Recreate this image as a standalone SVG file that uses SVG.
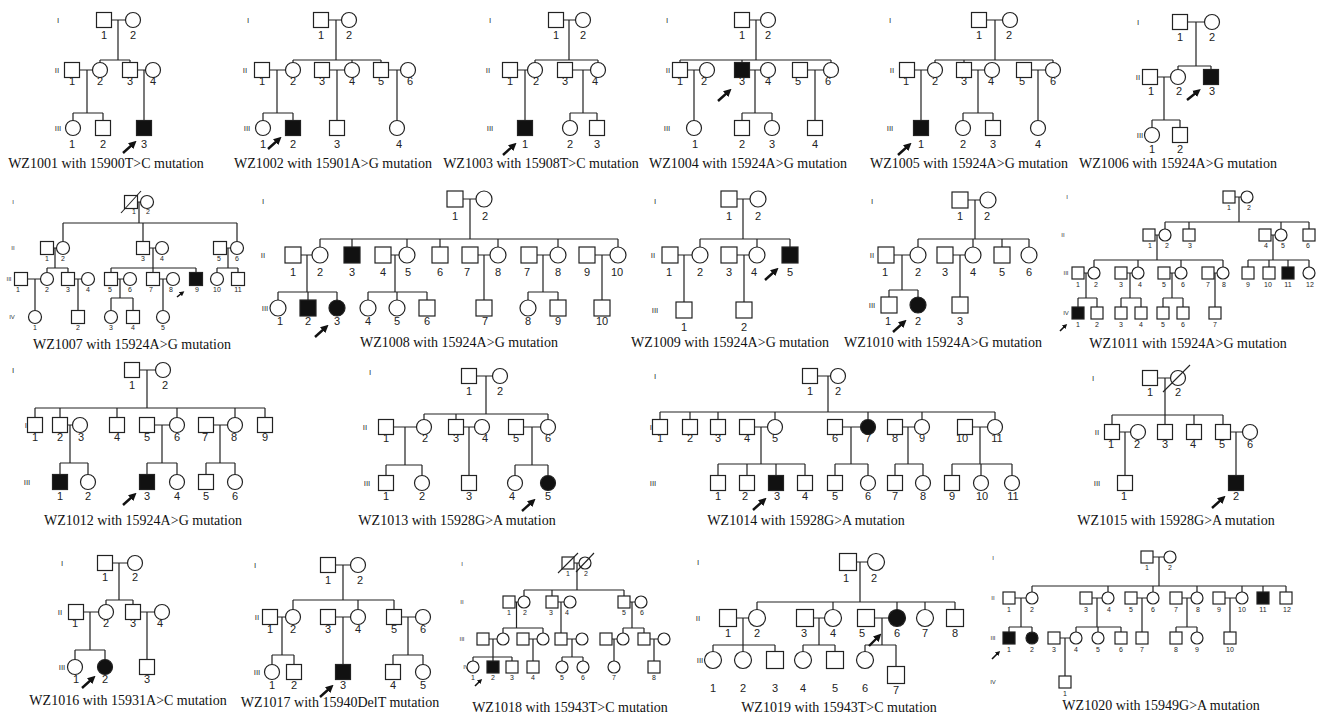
<svg xmlns="http://www.w3.org/2000/svg" width="1318" height="717" viewBox="0 0 1318 717">
<style>
.ln{fill:none;stroke:#222;stroke-width:1.2}
.m,.f{fill:#fff;stroke:#222;stroke-width:1.2}
.a{fill:#111}
.d{stroke:#222;stroke-width:1.1}
.n{font-family:"Liberation Sans",Arial,sans-serif;font-size:11px;fill:#222;text-anchor:middle}
.s{font-size:7px}
.g{font-family:"Liberation Sans",Arial,sans-serif;font-size:8px;fill:#333;text-anchor:middle}
.gs{font-size:6px}
.c{font-family:"Liberation Serif","Times New Roman",serif;font-size:14px;fill:#111;text-anchor:middle}
.ar{fill:none;stroke:#111;stroke-width:2.4;marker-end:url(#ah)}
.ars{fill:none;stroke:#111;stroke-width:1.6;marker-end:url(#ahs)}
</style>
<defs>
<marker id="ah" viewBox="0 0 10 10" refX="4" refY="5" markerWidth="8" markerHeight="8" markerUnits="userSpaceOnUse" orient="auto"><path d="M0,0L10,5L0,10z" fill="#111"/></marker>
<marker id="ahs" viewBox="0 0 10 10" refX="4" refY="5" markerWidth="5" markerHeight="5" markerUnits="userSpaceOnUse" orient="auto"><path d="M0,0L10,5L0,10z" fill="#111"/></marker>
</defs>
<rect width="1318" height="717" fill="#fff"/>

<g id="connectors" class="ln">
<path id="c1001" d="M111.5,20H125.5M118,20V60M100,60H130M100,60V62.5M130,60V62.5M79.5,70H92.5M87,70V113M73,113H103M73,113V120.5M103,113V120.5M137.5,70H145.5M144,70V120.5"/>
<path id="c1002" d="M328.5,20H341.5M336,20V60M293,60H381M293,60V62.5M352,60V62.5M381,60V62.5M269.5,70H285.5M277,70V113M263,113H293M263,113V120.5M293,113V120.5M329.5,70H344.5M337,70V120.5M388.5,70H400.5M397,70V120.5"/>
<path id="c1003" d="M563.5,20H575.5M569,20V60M535,60H598M535,60V62.5M598,60V62.5M517.5,70H527.5M525,70V120.5M572.5,70H590.5M583,70V113M570,113H597M570,113V120.5M597,113V120.5"/>
<path id="c1004" d="M749.5,20H760.5M756,20V60M680,60H831M680,60V62.5M742,60V62.5M831,60V62.5M687.5,70H699.5M694,70V120.5M749.5,70H760.5M755,70V113M742,113H772M742,113V120.5M772,113V120.5M807.5,70H823.5M815,70V120.5"/>
<path id="c1005" d="M986.5,20H1002.5M995,20V60M935,60H1053M935,60V62.5M964,60V62.5M1053,60V62.5M914.5,70H927.5M921,70V120.5M971.5,70H984.5M978,70V113M963,113H993M963,113V120.5M993,113V120.5M1031.5,70H1045.5M1038,70V120.5"/>
<path id="c1006" d="M1187.5,22H1204.5M1196,22V66M1178,66H1211M1178,66V69.5M1211,66V69.5M1157.5,77H1170.5M1164,77V120M1152,120H1180M1152,120V127.5M1180,120V127.5"/>
<path id="c1007" d="M137.5,202H140.5M139,202V223M63,223H237M63,223V241.5M143,223V241.5M237,223V241.5M53.5,248H56.5M149.5,248H155.5M226.5,248H230.5M55,248V268M153,248V268M228,248V268M47,268H68M47,268V272.5M68,268V272.5M111,268H196M111,268V272.5M153,268V272.5M196,268V272.5M217,268H238M217,268V272.5M238,268V272.5M27.5,279H40.5M74.5,279H81.5M117.5,279H123.5M159.5,279H166.5M35,279V310.5M78,279V310.5M120,279V298M111,298H133M111,298V310.5M133,298V310.5M163,279V310.5"/>
<path id="c1008" d="M463,199H476M470,199V239M320,239H618M320,239V247M352,239V247M407,239V247M440,239V247M498,239V247M558,239V247M618,239V247M301,255H312M391,255H399M478,255H490M537,255H550M595,255H610M307,255V292M395,255V292M484,255V300M543,255V292M602,255V300M278,292H337M278,292V300M308,292V300M337,292V300M368,292H427M368,292V300M397,292V300M427,292V300M528,292H558M528,292V300M558,292V300"/>
<path id="c1009" d="M737,199H750M743,199V239M700,239H790M700,239V247M757,239V247M790,239V247M678,255H692M684,255V302M737,255H749M744,255V302"/>
<path id="c1010" d="M968,200H980M975,200V239M918,239H1029M918,239V247M973,239V247M1002,239V247M1029,239V247M894,255H910M902,255V290M889,290H918M889,290V297M918,290V297M953,255H965M960,255V297"/>
<path id="c1011" d="M1235,197H1241M1239,197V222M1165,222H1309M1165,222V229M1189,222V229M1281,222V229M1309,222V229M1155,235H1159M1157,235V260M1271,235H1275M1273,235V260M1094,260H1223M1094,260V267M1138,260V267M1181,260V267M1223,260V267M1248,260H1309M1248,260V267M1269,260V267M1288,260V267M1309,260V267M1084,273H1088M1086,273V298M1127,273H1132M1130,273V298M1170,273H1175M1172,273V298M1214,273H1217M1215,273V307M1078,298H1097M1078,298V307M1097,298V307M1121,298H1141M1121,298V307M1141,298V307M1163,298H1183M1163,298V307M1183,298V307"/>
<path id="c1012" d="M139.5,370H155.5M147,370V408M35,408H265M35,408V417.5M60,408V417.5M117,408V417.5M177,408V417.5M235,408V417.5M265,408V417.5M67.5,425H72.5M70,425V463M60,463H88M60,463V474.5M88,463V474.5M154.5,425H169.5M162,425V463M147,463H177M147,463V474.5M177,463V474.5M213.5,425H227.5M220,425V463M206,463H235M206,463V474.5M235,463V474.5"/>
<path id="c1013" d="M476.5,376H492.5M486,376V414M424,414H548M424,414V419.5M456,414V419.5M548,414V419.5M393.5,427H416.5M405,427V465M386,465H422M386,465V475.5M422,465V475.5M463.5,427H474.5M469,427V475.5M523.5,427H540.5M532,427V465M515,465H548M515,465V475.5M548,465V475.5"/>
<path id="c1014" d="M817.5,376H830.5M828,376V412M660,412H995M660,412V419.5M690,412V419.5M718,412V419.5M775,412V419.5M868,412V419.5M922,412V419.5M995,412V419.5M754.5,427H767.5M761,427V464M718,464H805M718,464V475.5M747,464V475.5M776,464V475.5M805,464V475.5M842.5,427H860.5M851,427V464M835,464H868M835,464V475.5M868,464V475.5M902.5,427H914.5M908,427V464M895,464H923M895,464V475.5M923,464V475.5M972.5,427H987.5M980,427V464M952,464H1012M952,464V475.5M981,464V475.5M1012,464V475.5"/>
<path id="c1015" d="M1157.5,378H1170.5M1165,378V415M1112,415H1223M1112,415V424.5M1165,415V424.5M1194,415V424.5M1223,415V424.5M1119.5,432H1130.5M1125,432V475.5M1230.5,432H1242.5M1236,432V475.5"/>
<path id="c1016" d="M112.5,563H127.5M119,563V600M106,600H133M106,600V604.5M133,600V604.5M83.5,612H98.5M90,612V650M75,650H105M75,650V659.5M105,650V659.5M140.5,612H154.5M147,612V659.5"/>
<path id="c1017" d="M335.5,565H350.5M343,565V600M293,600H394M293,600V609.5M358,600V609.5M394,600V609.5M277.5,617H285.5M282,617V655M272,655H294M272,655V664.5M294,655V664.5M335.5,617H350.5M343,617V664.5M401.5,617H415.5M408,617V655M393,655H423M393,655V664.5M423,655V664.5"/>
<path id="c1018" d="M574,563H579M577,563V590M524,590H624M524,590V596M552,590V596M624,590V596M515,602H518M516.5,602V628M558,602H564M561,602V633M630,602H635M632,602V628M503,628H543M503,628V633M543,628V633M623,628H644M623,628V633M644,628V633M489,639H497M529,639H537M567,639H576M612,639H617M650,639H658M493,639V657M533,639V661M572,639V657M614,639V661M654,639V661M473,657H512M473,657V661M493,657V661M512,657V661M562,657H583M562,657V661M583,657V661"/>
<path id="c1019" d="M856.5,562H867.5M860,562V602M757,602H955M757,602V609.5M833,602V609.5M897,602V609.5M925,602V609.5M955,602V609.5M736.5,618H748.5M743,618V645M713,645H775M713,645V651.5M743,645V651.5M775,645V651.5M813.5,618H824.5M819,618V645M803,645H835M803,645V651.5M835,645V651.5M874.5,618H888.5M882,618V645M865,645H896M865,645V651.5M896,645V666.5"/>
<path id="c1020" d="M1153,557H1164M1159,557V586M1032,586H1286M1032,586V592M1108,586V592M1153,586V592M1197,586V592M1242,586V592M1263,586V592M1286,586V592M1015,598H1026M1092,598H1102M1137,598H1147M1182,598H1191M1225,598H1236M1021,598V627M1097,598V627M1142,598V632M1187,598V627M1230,598V632M1009,627H1032M1009,627V632M1032,627V632M1076,627H1121M1076,627V632M1098,627V632M1121,627V632M1176,627H1197M1176,627V632M1197,627V632M1060,638H1070M1065,638V676"/>
</g>

<g id="arrows">
<path class="ar" d="M123,153L133,144"/>
<path class="ar" d="M268,149L278,140"/>
<path class="ar" d="M503,155L513,146"/>
<path class="ar" d="M718,101L728,92"/>
<path class="ar" d="M898,155L908,146"/>
<path class="ar" d="M1187,100L1197,92"/>
<path class="ars" d="M177,297L182,293"/>
<path class="ar" d="M315,337L325,328"/>
<path class="ar" d="M765,280L775,271"/>
<path class="ar" d="M893,332L903,323"/>
<path class="ars" d="M1060,331L1065,326"/>
<path class="ar" d="M123,505L133,496"/>
<path class="ar" d="M522,511L532,502"/>
<path class="ar" d="M753,510L763,501"/>
<path class="ar" d="M1212,508L1222,499"/>
<path class="ar" d="M82,688L92,679"/>
<path class="ar" d="M320,697L330,688"/>
<path class="ars" d="M475,686L480,681"/>
<path class="ar" d="M869,646L878,637"/>
<path class="ars" d="M992,659L998,653"/>
</g>

<!-- WZ1001 -->
<g id="wz1001">
<text class="g" x="58" y="23">I</text><text class="g" x="57" y="73">II</text><text class="g" x="58" y="131">III</text>
<g id="wz1001-I1"><rect class="m" x="96.5" y="12.5" width="15" height="15"/><text class="n" x="104" y="39">1</text></g>
<g id="wz1001-I2"><circle class="f" cx="133" cy="20" r="7.5"/><text class="n" x="133" y="39">2</text></g>
<g id="wz1001-II1"><rect class="m" x="64.5" y="62.5" width="15" height="15"/><text class="n" x="72" y="85">1</text></g>
<g id="wz1001-II2"><circle class="f" cx="100" cy="70" r="7.5"/><text class="n" x="100" y="85">2</text></g>
<g id="wz1001-II3"><rect class="m" x="122.5" y="62.5" width="15" height="15"/><text class="n" x="130" y="85">3</text></g>
<g id="wz1001-II4"><circle class="f" cx="153" cy="70" r="7.5"/><text class="n" x="153" y="85">4</text></g>
<g id="wz1001-III1"><circle class="f" cx="73" cy="128" r="7.5"/><text class="n" x="72" y="148">1</text></g>
<g id="wz1001-III2"><rect class="m" x="95.5" y="120.5" width="15" height="15"/><text class="n" x="103" y="148">2</text></g>
<g id="wz1001-III3"><rect class="m a" x="136.5" y="120.5" width="15" height="15"/><text class="n" x="144" y="148">3</text></g>
<text class="c" x="106" y="168">WZ1001 with 15900T&gt;C mutation</text>
</g>

<!-- WZ1002 -->
<g id="wz1002">
<text class="g" x="248" y="23">I</text><text class="g" x="245" y="73">II</text><text class="g" x="247" y="131">III</text>
<g id="wz1002-I1"><rect class="m" x="313.5" y="12.5" width="15" height="15"/><text class="n" x="321" y="39">1</text></g>
<g id="wz1002-I2"><circle class="f" cx="349" cy="20" r="7.5"/><text class="n" x="349" y="39">2</text></g>
<g id="wz1002-II1"><rect class="m" x="254.5" y="62.5" width="15" height="15"/><text class="n" x="262" y="85">1</text></g>
<g id="wz1002-II2"><circle class="f" cx="293" cy="70" r="7.5"/><text class="n" x="293" y="85">2</text></g>
<g id="wz1002-II3"><rect class="m" x="314.5" y="62.5" width="15" height="15"/><text class="n" x="322" y="85">3</text></g>
<g id="wz1002-II4"><circle class="f" cx="352" cy="70" r="7.5"/><text class="n" x="352" y="85">4</text></g>
<g id="wz1002-II5"><rect class="m" x="373.5" y="62.5" width="15" height="15"/><text class="n" x="381" y="85">5</text></g>
<g id="wz1002-II6"><circle class="f" cx="408" cy="70" r="7.5"/><text class="n" x="410" y="85">6</text></g>
<g id="wz1002-III1"><circle class="f" cx="263" cy="128" r="7.5"/><text class="n" x="263" y="148">1</text></g>
<g id="wz1002-III2"><rect class="m a" x="285.5" y="120.5" width="15" height="15"/><text class="n" x="293" y="148">2</text></g>
<g id="wz1002-III3"><rect class="m" x="329.5" y="120.5" width="15" height="15"/><text class="n" x="337" y="148">3</text></g>
<g id="wz1002-III4"><circle class="f" cx="397" cy="128" r="7.5"/><text class="n" x="399" y="148">4</text></g>
<text class="c" x="333" y="168">WZ1002 with 15901A&gt;G mutation</text>
</g>

<!-- WZ1003 -->
<g id="wz1003">
<text class="g" x="490" y="23">I</text><text class="g" x="488" y="73">II</text><text class="g" x="490" y="131">III</text>
<g id="wz1003-I1"><rect class="m" x="548.5" y="12.5" width="15" height="15"/><text class="n" x="556" y="39">1</text></g>
<g id="wz1003-I2"><circle class="f" cx="583" cy="20" r="7.5"/><text class="n" x="583" y="39">2</text></g>
<g id="wz1003-II1"><rect class="m" x="502.5" y="62.5" width="15" height="15"/><text class="n" x="510" y="85">1</text></g>
<g id="wz1003-II2"><circle class="f" cx="535" cy="70" r="7.5"/><text class="n" x="536" y="85">2</text></g>
<g id="wz1003-II3"><rect class="m" x="557.5" y="62.5" width="15" height="15"/><text class="n" x="565" y="85">3</text></g>
<g id="wz1003-II4"><circle class="f" cx="598" cy="70" r="7.5"/><text class="n" x="595" y="85">4</text></g>
<g id="wz1003-III1"><rect class="m a" x="517.5" y="120.5" width="15" height="15"/><text class="n" x="525" y="148">1</text></g>
<g id="wz1003-III2"><circle class="f" cx="570" cy="128" r="7.5"/><text class="n" x="570" y="148">2</text></g>
<g id="wz1003-III3"><rect class="m" x="589.5" y="120.5" width="15" height="15"/><text class="n" x="597" y="148">3</text></g>
<text class="c" x="541" y="168">WZ1003 with 15908T&gt;C mutation</text>
</g>

<!-- WZ1004 -->
<g id="wz1004">
<text class="g" x="667" y="23">I</text><text class="g" x="668" y="73">II</text><text class="g" x="667" y="131">III</text>
<g id="wz1004-I1"><rect class="m" x="734.5" y="12.5" width="15" height="15"/><text class="n" x="742" y="39">1</text></g>
<g id="wz1004-I2"><circle class="f" cx="768" cy="20" r="7.5"/><text class="n" x="768" y="39">2</text></g>
<g id="wz1004-II1"><rect class="m" x="672.5" y="62.5" width="15" height="15"/><text class="n" x="680" y="85">1</text></g>
<g id="wz1004-II2"><circle class="f" cx="707" cy="70" r="7.5"/><text class="n" x="704" y="85">2</text></g>
<g id="wz1004-II3"><rect class="m a" x="734.5" y="62.5" width="15" height="15"/><text class="n" x="742" y="85">3</text></g>
<g id="wz1004-II4"><circle class="f" cx="768" cy="70" r="7.5"/><text class="n" x="768" y="85">4</text></g>
<g id="wz1004-II5"><rect class="m" x="792.5" y="62.5" width="15" height="15"/><text class="n" x="798" y="85">5</text></g>
<g id="wz1004-II6"><circle class="f" cx="831" cy="70" r="7.5"/><text class="n" x="828" y="85">6</text></g>
<g id="wz1004-III1"><circle class="f" cx="694" cy="128" r="7.5"/><text class="n" x="695" y="148">1</text></g>
<g id="wz1004-III2"><rect class="m" x="734.5" y="120.5" width="15" height="15"/><text class="n" x="742" y="148">2</text></g>
<g id="wz1004-III3"><circle class="f" cx="772" cy="128" r="7.5"/><text class="n" x="772" y="148">3</text></g>
<g id="wz1004-III4"><rect class="m" x="807.5" y="120.5" width="15" height="15"/><text class="n" x="815" y="148">4</text></g>
<text class="c" x="748" y="168">WZ1004 with 15924A&gt;G mutation</text>
</g>

<!-- WZ1005 -->
<g id="wz1005">
<text class="g" x="890" y="23">I</text><text class="g" x="892" y="73">II</text><text class="g" x="890" y="131">III</text>
<g id="wz1005-I1"><rect class="m" x="971.5" y="12.5" width="15" height="15"/><text class="n" x="979" y="39">1</text></g>
<g id="wz1005-I2"><circle class="f" cx="1010" cy="20" r="7.5"/><text class="n" x="1009" y="39">2</text></g>
<g id="wz1005-II1"><rect class="m" x="899.5" y="62.5" width="15" height="15"/><text class="n" x="906" y="85">1</text></g>
<g id="wz1005-II2"><circle class="f" cx="935" cy="70" r="7.5"/><text class="n" x="935" y="85">2</text></g>
<g id="wz1005-II3"><rect class="m" x="956.5" y="62.5" width="15" height="15"/><text class="n" x="964" y="85">3</text></g>
<g id="wz1005-II4"><circle class="f" cx="992" cy="70" r="7.5"/><text class="n" x="991" y="85">4</text></g>
<g id="wz1005-II5"><rect class="m" x="1016.5" y="62.5" width="15" height="15"/><text class="n" x="1022" y="85">5</text></g>
<g id="wz1005-II6"><circle class="f" cx="1053" cy="70" r="7.5"/><text class="n" x="1053" y="85">6</text></g>
<g id="wz1005-III1"><rect class="m a" x="913.5" y="120.5" width="15" height="15"/><text class="n" x="921" y="148">1</text></g>
<g id="wz1005-III2"><circle class="f" cx="963" cy="128" r="7.5"/><text class="n" x="963" y="148">2</text></g>
<g id="wz1005-III3"><rect class="m" x="985.5" y="120.5" width="15" height="15"/><text class="n" x="993" y="148">3</text></g>
<g id="wz1005-III4"><circle class="f" cx="1038" cy="128" r="7.5"/><text class="n" x="1038" y="148">4</text></g>
<text class="c" x="969" y="168">WZ1005 with 15924A&gt;G mutation</text>
</g>

<!-- WZ1006 -->
<g id="wz1006">
<text class="g" x="1138" y="25">I</text><text class="g" x="1138" y="80">II</text><text class="g" x="1140" y="138">III</text>
<g id="wz1006-I1"><rect class="m" x="1172.5" y="14.5" width="15" height="15"/><text class="n" x="1180" y="41">1</text></g>
<g id="wz1006-I2"><circle class="f" cx="1212" cy="22" r="7.5"/><text class="n" x="1212" y="41">2</text></g>
<g id="wz1006-II1"><rect class="m" x="1142.5" y="69.5" width="15" height="15"/><text class="n" x="1151" y="95">1</text></g>
<g id="wz1006-II2"><circle class="f" cx="1178" cy="77" r="7.5"/><text class="n" x="1179" y="95">2</text></g>
<g id="wz1006-II3"><rect class="m a" x="1203.5" y="69.5" width="15" height="15"/><text class="n" x="1212" y="95">3</text></g>
<g id="wz1006-III1"><circle class="f" cx="1152" cy="135" r="7.5"/><text class="n" x="1152" y="153">1</text></g>
<g id="wz1006-III2"><rect class="m" x="1172.5" y="127.5" width="15" height="15"/><text class="n" x="1180" y="153">2</text></g>
<text class="c" x="1178" y="168">WZ1006 with 15924A&gt;G mutation</text>
</g>

<!-- WZ1007 -->
<g id="wz1007">
<text class="g gs" x="13" y="204">I</text><text class="g gs" x="13" y="250">II</text><text class="g gs" x="9" y="281">III</text><text class="g gs" x="12" y="319">IV</text>
<g id="wz1007-I1"><rect class="m" x="124.5" y="195.5" width="13" height="13"/><path class="d" d="M121,213L141,191"/><text class="n s" x="134" y="214">1</text></g>
<g id="wz1007-I2"><circle class="f" cx="147" cy="202" r="6.5"/><text class="n s" x="148" y="214">2</text></g>
<g id="wz1007-II1"><rect class="m" x="40.5" y="241.5" width="13" height="13"/><text class="n s" x="47" y="261">1</text></g>
<g id="wz1007-II2"><circle class="f" cx="63" cy="248" r="6.5"/><text class="n s" x="63" y="261">2</text></g>
<g id="wz1007-II3"><rect class="m" x="136.5" y="241.5" width="13" height="13"/><text class="n s" x="143" y="261">3</text></g>
<g id="wz1007-II4"><circle class="f" cx="162" cy="248" r="6.5"/><text class="n s" x="162" y="261">4</text></g>
<g id="wz1007-II5"><rect class="m" x="213.5" y="241.5" width="13" height="13"/><text class="n s" x="219" y="261">5</text></g>
<g id="wz1007-II6"><circle class="f" cx="237" cy="248" r="6.5"/><text class="n s" x="237" y="261">6</text></g>
<g id="wz1007-III1"><rect class="m" x="14.5" y="272.5" width="13" height="13"/><text class="n s" x="18" y="292">1</text></g>
<g id="wz1007-III2"><circle class="f" cx="47" cy="279" r="6.5"/><text class="n s" x="47" y="292">2</text></g>
<g id="wz1007-III3"><rect class="m" x="61.5" y="272.5" width="13" height="13"/><text class="n s" x="68" y="292">3</text></g>
<g id="wz1007-III4"><circle class="f" cx="88" cy="279" r="6.5"/><text class="n s" x="88" y="292">4</text></g>
<g id="wz1007-III5"><rect class="m" x="104.5" y="272.5" width="13" height="13"/><text class="n s" x="110" y="292">5</text></g>
<g id="wz1007-III6"><circle class="f" cx="130" cy="279" r="6.5"/><text class="n s" x="130" y="292">6</text></g>
<g id="wz1007-III7"><rect class="m" x="146.5" y="272.5" width="13" height="13"/><text class="n s" x="151" y="292">7</text></g>
<g id="wz1007-III8"><circle class="f" cx="173" cy="279" r="6.5"/><text class="n s" x="171" y="292">8</text></g>
<g id="wz1007-III9"><rect class="m a" x="189.5" y="272.5" width="13" height="13"/><text class="n s" x="197" y="292">9</text></g>
<g id="wz1007-III10"><circle class="f" cx="217" cy="279" r="6.5"/><text class="n s" x="217" y="292">10</text></g>
<g id="wz1007-III11"><rect class="m" x="231.5" y="272.5" width="13" height="13"/><text class="n s" x="238" y="292">11</text></g>
<g id="wz1007-IV1"><circle class="f" cx="35" cy="317" r="6.5"/><text class="n s" x="35" y="330">1</text></g>
<g id="wz1007-IV2"><rect class="m" x="71.5" y="310.5" width="13" height="13"/><text class="n s" x="78" y="330">2</text></g>
<g id="wz1007-IV3"><circle class="f" cx="111" cy="317" r="6.5"/><text class="n s" x="111" y="330">3</text></g>
<g id="wz1007-IV4"><rect class="m" x="126.5" y="310.5" width="13" height="13"/><text class="n s" x="133" y="330">4</text></g>
<g id="wz1007-IV5"><circle class="f" cx="163" cy="317" r="6.5"/><text class="n s" x="163" y="330">5</text></g>
<text class="c" x="132" y="349">WZ1007 with 15924A&gt;G mutation</text>
</g>

<!-- WZ1008 -->
<g id="wz1008">
<text class="g" x="263" y="204">I</text><text class="g" x="263" y="258">II</text><text class="g" x="265" y="311">III</text>
<g id="wz1008-I1"><rect class="m" x="447" y="191" width="16" height="16"/><text class="n" x="455" y="220">1</text></g>
<g id="wz1008-I2"><circle class="f" cx="484" cy="199" r="8"/><text class="n" x="485" y="220">2</text></g>
<g id="wz1008-II1"><rect class="m" x="285" y="247" width="16" height="16"/><text class="n" x="293" y="276">1</text></g>
<g id="wz1008-II2"><circle class="f" cx="320" cy="255" r="8"/><text class="n" x="320" y="276">2</text></g>
<g id="wz1008-II3"><rect class="m a" x="344" y="247" width="16" height="16"/><text class="n" x="352" y="276">3</text></g>
<g id="wz1008-II4"><rect class="m" x="375" y="247" width="16" height="16"/><text class="n" x="383" y="276">4</text></g>
<g id="wz1008-II5"><circle class="f" cx="407" cy="255" r="8"/><text class="n" x="408" y="276">5</text></g>
<g id="wz1008-II6"><rect class="m" x="432" y="247" width="16" height="16"/><text class="n" x="440" y="276">6</text></g>
<g id="wz1008-II7"><rect class="m" x="462" y="247" width="16" height="16"/><text class="n" x="467" y="276">7</text></g>
<g id="wz1008-II8"><circle class="f" cx="498" cy="255" r="8"/><text class="n" x="498" y="276">8</text></g>
<g id="wz1008-II7b"><rect class="m" x="521" y="247" width="16" height="16"/><text class="n" x="527" y="276">7</text></g>
<g id="wz1008-II8b"><circle class="f" cx="558" cy="255" r="8"/><text class="n" x="558" y="276">8</text></g>
<g id="wz1008-II9"><rect class="m" x="579" y="247" width="16" height="16"/><text class="n" x="587" y="276">9</text></g>
<g id="wz1008-II10"><circle class="f" cx="618" cy="255" r="8"/><text class="n" x="617" y="276">10</text></g>
<g id="wz1008-III1"><circle class="f" cx="278" cy="308" r="8"/><text class="n" x="280" y="325">1</text></g>
<g id="wz1008-III2"><rect class="m a" x="300" y="300" width="16" height="16"/><text class="n" x="308" y="325">2</text></g>
<g id="wz1008-III3"><circle class="f a" cx="337" cy="308" r="8"/><text class="n" x="337" y="325">3</text></g>
<g id="wz1008-III4"><circle class="f" cx="368" cy="308" r="8"/><text class="n" x="368" y="325">4</text></g>
<g id="wz1008-III5"><circle class="f" cx="397" cy="308" r="8"/><text class="n" x="397" y="325">5</text></g>
<g id="wz1008-III6"><rect class="m" x="419" y="300" width="16" height="16"/><text class="n" x="427" y="325">6</text></g>
<g id="wz1008-III7"><rect class="m" x="476" y="300" width="16" height="16"/><text class="n" x="485" y="325">7</text></g>
<g id="wz1008-III8"><circle class="f" cx="528" cy="308" r="8"/><text class="n" x="528" y="325">8</text></g>
<g id="wz1008-III9"><rect class="m" x="550" y="300" width="16" height="16"/><text class="n" x="558" y="325">9</text></g>
<g id="wz1008-III10"><rect class="m" x="594" y="300" width="16" height="16"/><text class="n" x="602" y="325">10</text></g>
<text class="c" x="459" y="347">WZ1008 with 15924A&gt;G mutation</text>
</g>

<!-- WZ1009 -->
<g id="wz1009">
<text class="g" x="655" y="204">I</text><text class="g" x="653" y="258">II</text><text class="g" x="655" y="313">III</text>
<g id="wz1009-I1"><rect class="m" x="721" y="191" width="16" height="16"/><text class="n" x="729" y="220">1</text></g>
<g id="wz1009-I2"><circle class="f" cx="758" cy="199" r="8"/><text class="n" x="758" y="220">2</text></g>
<g id="wz1009-II1"><rect class="m" x="662" y="247" width="16" height="16"/><text class="n" x="669" y="276">1</text></g>
<g id="wz1009-II2"><circle class="f" cx="700" cy="255" r="8"/><text class="n" x="700" y="276">2</text></g>
<g id="wz1009-II3"><rect class="m" x="721" y="247" width="16" height="16"/><text class="n" x="729" y="276">3</text></g>
<g id="wz1009-II4"><circle class="f" cx="757" cy="255" r="8"/><text class="n" x="754" y="276">4</text></g>
<g id="wz1009-II5"><rect class="m a" x="782" y="247" width="16" height="16"/><text class="n" x="790" y="276">5</text></g>
<g id="wz1009-III1"><rect class="m" x="676" y="302" width="16" height="16"/><text class="n" x="684" y="331">1</text></g>
<g id="wz1009-III2"><rect class="m" x="736" y="302" width="16" height="16"/><text class="n" x="744" y="331">2</text></g>
<text class="c" x="730" y="347">WZ1009 with 15924A&gt;G mutation</text>
</g>

<!-- WZ1010 -->
<g id="wz1010">
<text class="g" x="872" y="204">I</text><text class="g" x="872" y="258">II</text><text class="g" x="872" y="308">III</text>
<g id="wz1010-I1"><rect class="m" x="952" y="192" width="16" height="16"/><text class="n" x="960" y="220">1</text></g>
<g id="wz1010-I2"><circle class="f" cx="988" cy="200" r="8"/><text class="n" x="987" y="220">2</text></g>
<g id="wz1010-II1"><rect class="m" x="878" y="247" width="16" height="16"/><text class="n" x="885" y="276">1</text></g>
<g id="wz1010-II2"><circle class="f" cx="918" cy="255" r="8"/><text class="n" x="918" y="276">2</text></g>
<g id="wz1010-II3"><rect class="m" x="937" y="247" width="16" height="16"/><text class="n" x="945" y="276">3</text></g>
<g id="wz1010-II4"><circle class="f" cx="973" cy="255" r="8"/><text class="n" x="973" y="276">4</text></g>
<g id="wz1010-II5"><rect class="m" x="994" y="247" width="16" height="16"/><text class="n" x="1002" y="276">5</text></g>
<g id="wz1010-II6"><circle class="f" cx="1029" cy="255" r="8"/><text class="n" x="1029" y="276">6</text></g>
<g id="wz1010-III1"><rect class="m" x="881" y="297" width="16" height="16"/><text class="n" x="888" y="325">1</text></g>
<g id="wz1010-III2"><circle class="f a" cx="918" cy="305" r="8"/><text class="n" x="918" y="325">2</text></g>
<g id="wz1010-III3"><rect class="m" x="952" y="297" width="16" height="16"/><text class="n" x="960" y="325">3</text></g>
<text class="c" x="943" y="347">WZ1010 with 15924A&gt;G mutation</text>
</g>

<!-- WZ1011 -->
<g id="wz1011">
<text class="g gs" x="1067" y="199">I</text><text class="g gs" x="1063" y="237">II</text><text class="g gs" x="1066" y="275">III</text><text class="g gs" x="1066" y="315">IV</text>
<g id="wz1011-I1"><rect class="m" x="1223" y="191" width="12" height="12"/><text class="n s" x="1229" y="210">1</text></g>
<g id="wz1011-I2"><circle class="f" cx="1247" cy="197" r="6"/><text class="n s" x="1249" y="210">2</text></g>
<g id="wz1011-II1"><rect class="m" x="1143" y="229" width="12" height="12"/><text class="n s" x="1150" y="248">1</text></g>
<g id="wz1011-II2"><circle class="f" cx="1165" cy="235" r="6"/><text class="n s" x="1167" y="248">2</text></g>
<g id="wz1011-II3"><rect class="m" x="1183" y="229" width="12" height="12"/><text class="n s" x="1190" y="248">3</text></g>
<g id="wz1011-II4"><rect class="m" x="1259" y="229" width="12" height="12"/><text class="n s" x="1266" y="248">4</text></g>
<g id="wz1011-II5"><circle class="f" cx="1281" cy="235" r="6"/><text class="n s" x="1283" y="248">5</text></g>
<g id="wz1011-II6"><rect class="m" x="1303" y="229" width="12" height="12"/><text class="n s" x="1308" y="248">6</text></g>
<g id="wz1011-III1"><rect class="m" x="1072" y="267" width="12" height="12"/><text class="n s" x="1078" y="287">1</text></g>
<g id="wz1011-III2"><circle class="f" cx="1094" cy="273" r="6"/><text class="n s" x="1096" y="287">2</text></g>
<g id="wz1011-III3"><rect class="m" x="1115" y="267" width="12" height="12"/><text class="n s" x="1121" y="287">3</text></g>
<g id="wz1011-III4"><circle class="f" cx="1138" cy="273" r="6"/><text class="n s" x="1140" y="287">4</text></g>
<g id="wz1011-III5"><rect class="m" x="1158" y="267" width="12" height="12"/><text class="n s" x="1164" y="287">5</text></g>
<g id="wz1011-III6"><circle class="f" cx="1181" cy="273" r="6"/><text class="n s" x="1183" y="287">6</text></g>
<g id="wz1011-III7"><rect class="m" x="1202" y="267" width="12" height="12"/><text class="n s" x="1208" y="287">7</text></g>
<g id="wz1011-III8"><circle class="f" cx="1223" cy="273" r="6"/><text class="n s" x="1224" y="287">8</text></g>
<g id="wz1011-III9"><rect class="m" x="1242" y="267" width="12" height="12"/><text class="n s" x="1248" y="287">9</text></g>
<g id="wz1011-III10"><rect class="m" x="1263" y="267" width="12" height="12"/><text class="n s" x="1268" y="287">10</text></g>
<g id="wz1011-III11"><rect class="m a" x="1282" y="267" width="12" height="12"/><text class="n s" x="1288" y="287">11</text></g>
<g id="wz1011-III12"><circle class="f" cx="1309" cy="273" r="6"/><text class="n s" x="1310" y="287">12</text></g>
<g id="wz1011-IV1"><rect class="m a" x="1072" y="307" width="12" height="12"/><text class="n s" x="1078" y="327">1</text></g>
<g id="wz1011-IV2"><rect class="m" x="1091" y="307" width="12" height="12"/><text class="n s" x="1097" y="327">2</text></g>
<g id="wz1011-IV3"><rect class="m" x="1115" y="307" width="12" height="12"/><text class="n s" x="1121" y="327">3</text></g>
<g id="wz1011-IV4"><rect class="m" x="1135" y="307" width="12" height="12"/><text class="n s" x="1141" y="327">4</text></g>
<g id="wz1011-IV5"><rect class="m" x="1157" y="307" width="12" height="12"/><text class="n s" x="1163" y="327">5</text></g>
<g id="wz1011-IV6"><rect class="m" x="1177" y="307" width="12" height="12"/><text class="n s" x="1183" y="327">6</text></g>
<g id="wz1011-IV7"><rect class="m" x="1209" y="307" width="12" height="12"/><text class="n s" x="1215" y="327">7</text></g>
<text class="c" x="1188" y="348">WZ1011 with 15924A&gt;G mutation</text>
</g>

<!-- WZ1012 -->
<g id="wz1012">
<text class="g" x="13" y="373">I</text><text class="g" x="27" y="428">II</text><text class="g" x="27" y="485">III</text>
<g id="wz1012-I1"><rect class="m" x="124.5" y="362.5" width="15" height="15"/><text class="n" x="132" y="389">1</text></g>
<g id="wz1012-I2"><circle class="f" cx="163" cy="370" r="7.5"/><text class="n" x="165" y="389">2</text></g>
<g id="wz1012-II1"><rect class="m" x="27.5" y="417.5" width="15" height="15"/><text class="n" x="35" y="441">1</text></g>
<g id="wz1012-II2"><rect class="m" x="52.5" y="417.5" width="15" height="15"/><text class="n" x="60" y="441">2</text></g>
<g id="wz1012-II3"><circle class="f" cx="80" cy="425" r="7.5"/><text class="n" x="81" y="441">3</text></g>
<g id="wz1012-II4"><rect class="m" x="109.5" y="417.5" width="15" height="15"/><text class="n" x="117" y="441">4</text></g>
<g id="wz1012-II5"><rect class="m" x="139.5" y="417.5" width="15" height="15"/><text class="n" x="147" y="441">5</text></g>
<g id="wz1012-II6"><circle class="f" cx="177" cy="425" r="7.5"/><text class="n" x="177" y="441">6</text></g>
<g id="wz1012-II7"><rect class="m" x="198.5" y="417.5" width="15" height="15"/><text class="n" x="205" y="441">7</text></g>
<g id="wz1012-II8"><circle class="f" cx="235" cy="425" r="7.5"/><text class="n" x="234" y="441">8</text></g>
<g id="wz1012-II9"><rect class="m" x="257.5" y="417.5" width="15" height="15"/><text class="n" x="265" y="441">9</text></g>
<g id="wz1012-III1"><rect class="m a" x="52.5" y="474.5" width="15" height="15"/><text class="n" x="60" y="500">1</text></g>
<g id="wz1012-III2"><circle class="f" cx="88" cy="482" r="7.5"/><text class="n" x="88" y="500">2</text></g>
<g id="wz1012-III3"><rect class="m a" x="139.5" y="474.5" width="15" height="15"/><text class="n" x="147" y="500">3</text></g>
<g id="wz1012-III4"><circle class="f" cx="177" cy="482" r="7.5"/><text class="n" x="177" y="500">4</text></g>
<g id="wz1012-III5"><rect class="m" x="198.5" y="474.5" width="15" height="15"/><text class="n" x="206" y="500">5</text></g>
<g id="wz1012-III6"><circle class="f" cx="235" cy="482" r="7.5"/><text class="n" x="235" y="500">6</text></g>
<text class="c" x="143" y="525">WZ1012 with 15924A&gt;G mutation</text>
</g>

<!-- WZ1013 -->
<g id="wz1013">
<text class="g" x="370" y="375">I</text><text class="g" x="365" y="430">II</text><text class="g" x="367" y="486">III</text>
<g id="wz1013-I1"><rect class="m" x="461.5" y="368.5" width="15" height="15"/><text class="n" x="469" y="395">1</text></g>
<g id="wz1013-I2"><circle class="f" cx="500" cy="376" r="7.5"/><text class="n" x="500" y="395">2</text></g>
<g id="wz1013-II1"><rect class="m" x="378.5" y="419.5" width="15" height="15"/><text class="n" x="386" y="442">1</text></g>
<g id="wz1013-II2"><circle class="f" cx="424" cy="427" r="7.5"/><text class="n" x="425" y="442">2</text></g>
<g id="wz1013-II3"><rect class="m" x="448.5" y="419.5" width="15" height="15"/><text class="n" x="456" y="442">3</text></g>
<g id="wz1013-II4"><circle class="f" cx="482" cy="427" r="7.5"/><text class="n" x="485" y="442">4</text></g>
<g id="wz1013-II5"><rect class="m" x="508.5" y="419.5" width="15" height="15"/><text class="n" x="516" y="442">5</text></g>
<g id="wz1013-II6"><circle class="f" cx="548" cy="427" r="7.5"/><text class="n" x="548" y="442">6</text></g>
<g id="wz1013-III1"><rect class="m" x="378.5" y="475.5" width="15" height="15"/><text class="n" x="386" y="500">1</text></g>
<g id="wz1013-III2"><circle class="f" cx="422" cy="483" r="7.5"/><text class="n" x="422" y="500">2</text></g>
<g id="wz1013-III3"><rect class="m" x="461.5" y="475.5" width="15" height="15"/><text class="n" x="469" y="500">3</text></g>
<g id="wz1013-III4"><circle class="f" cx="515" cy="483" r="7.5"/><text class="n" x="512" y="500">4</text></g>
<g id="wz1013-III5"><circle class="f a" cx="548" cy="483" r="7.5"/><text class="n" x="548" y="500">5</text></g>
<text class="c" x="457" y="525">WZ1013 with 15928G&gt;A mutation</text>
</g>

<!-- WZ1014 -->
<g id="wz1014">
<text class="g" x="655" y="379">I</text><text class="g" x="652" y="430">II</text><text class="g" x="653" y="486">III</text>
<g id="wz1014-I1"><rect class="m" x="802.5" y="368.5" width="15" height="15"/><text class="n" x="810" y="395">1</text></g>
<g id="wz1014-I2"><circle class="f" cx="838" cy="376" r="7.5"/><text class="n" x="838" y="395">2</text></g>
<g id="wz1014-II1"><rect class="m" x="652.5" y="419.5" width="15" height="15"/><text class="n" x="660" y="442">1</text></g>
<g id="wz1014-II2"><rect class="m" x="682.5" y="419.5" width="15" height="15"/><text class="n" x="690" y="442">2</text></g>
<g id="wz1014-II3"><rect class="m" x="710.5" y="419.5" width="15" height="15"/><text class="n" x="718" y="442">3</text></g>
<g id="wz1014-II4"><rect class="m" x="739.5" y="419.5" width="15" height="15"/><text class="n" x="747" y="442">4</text></g>
<g id="wz1014-II5"><circle class="f" cx="775" cy="427" r="7.5"/><text class="n" x="775" y="442">5</text></g>
<g id="wz1014-II6"><rect class="m" x="827.5" y="419.5" width="15" height="15"/><text class="n" x="835" y="442">6</text></g>
<g id="wz1014-II7"><circle class="f a" cx="868" cy="427" r="7.5"/><text class="n" x="868" y="442">7</text></g>
<g id="wz1014-II8"><rect class="m" x="887.5" y="419.5" width="15" height="15"/><text class="n" x="895" y="442">8</text></g>
<g id="wz1014-II9"><circle class="f" cx="922" cy="427" r="7.5"/><text class="n" x="922" y="442">9</text></g>
<g id="wz1014-II10"><rect class="m" x="957.5" y="419.5" width="15" height="15"/><text class="n" x="962" y="442">10</text></g>
<g id="wz1014-II11"><circle class="f" cx="995" cy="427" r="7.5"/><text class="n" x="997" y="442">11</text></g>
<g id="wz1014-III1"><rect class="m" x="710.5" y="475.5" width="15" height="15"/><text class="n" x="718" y="500">1</text></g>
<g id="wz1014-III2"><rect class="m" x="739.5" y="475.5" width="15" height="15"/><text class="n" x="745" y="500">2</text></g>
<g id="wz1014-III3"><rect class="m a" x="768.5" y="475.5" width="15" height="15"/><text class="n" x="777" y="500">3</text></g>
<g id="wz1014-III4"><rect class="m" x="797.5" y="475.5" width="15" height="15"/><text class="n" x="805" y="500">4</text></g>
<g id="wz1014-III5"><rect class="m" x="827.5" y="475.5" width="15" height="15"/><text class="n" x="835" y="500">5</text></g>
<g id="wz1014-III6"><circle class="f" cx="868" cy="483" r="7.5"/><text class="n" x="868" y="500">6</text></g>
<g id="wz1014-III7"><rect class="m" x="887.5" y="475.5" width="15" height="15"/><text class="n" x="895" y="500">7</text></g>
<g id="wz1014-III8"><circle class="f" cx="923" cy="483" r="7.5"/><text class="n" x="923" y="500">8</text></g>
<g id="wz1014-III9"><rect class="m" x="944.5" y="475.5" width="15" height="15"/><text class="n" x="952" y="500">9</text></g>
<g id="wz1014-III10"><circle class="f" cx="981" cy="483" r="7.5"/><text class="n" x="982" y="500">10</text></g>
<g id="wz1014-III11"><circle class="f" cx="1012" cy="483" r="7.5"/><text class="n" x="1013" y="500">11</text></g>
<text class="c" x="806" y="525">WZ1014 with 15928G&gt;A mutation</text>
</g>

<!-- WZ1015 -->
<g id="wz1015">
<text class="g" x="1093" y="381">I</text><text class="g" x="1097" y="435">II</text><text class="g" x="1097" y="486">III</text>
<g id="wz1015-I1"><rect class="m" x="1142.5" y="370.5" width="15" height="15"/><text class="n" x="1150" y="396">1</text></g>
<g id="wz1015-I2"><circle class="f" cx="1178" cy="378" r="7.5"/><path class="d" d="M1163,392L1190,365"/><text class="n" x="1178" y="396">2</text></g>
<g id="wz1015-II1"><rect class="m" x="1104.5" y="424.5" width="15" height="15"/><text class="n" x="1111" y="448">1</text></g>
<g id="wz1015-II2"><circle class="f" cx="1138" cy="432" r="7.5"/><text class="n" x="1137" y="448">2</text></g>
<g id="wz1015-II3"><rect class="m" x="1157.5" y="424.5" width="15" height="15"/><text class="n" x="1165" y="448">3</text></g>
<g id="wz1015-II4"><rect class="m" x="1186.5" y="424.5" width="15" height="15"/><text class="n" x="1193" y="448">4</text></g>
<g id="wz1015-II5"><rect class="m" x="1215.5" y="424.5" width="15" height="15"/><text class="n" x="1222" y="448">5</text></g>
<g id="wz1015-II6"><circle class="f" cx="1250" cy="432" r="7.5"/><text class="n" x="1250" y="448">6</text></g>
<g id="wz1015-III1"><rect class="m" x="1117.5" y="475.5" width="15" height="15"/><text class="n" x="1124" y="500">1</text></g>
<g id="wz1015-III2"><rect class="m a" x="1228.5" y="475.5" width="15" height="15"/><text class="n" x="1236" y="500">2</text></g>
<text class="c" x="1176" y="525">WZ1015 with 15928G&gt;A mutation</text>
</g>

<!-- WZ1016 -->
<g id="wz1016">
<text class="g" x="62" y="566">I</text><text class="g" x="60" y="615">II</text><text class="g" x="62" y="670">III</text>
<g id="wz1016-I1"><rect class="m" x="97.5" y="555.5" width="15" height="15"/><text class="n" x="105" y="581">1</text></g>
<g id="wz1016-I2"><circle class="f" cx="135" cy="563" r="7.5"/><text class="n" x="135" y="581">2</text></g>
<g id="wz1016-II1"><rect class="m" x="68.5" y="604.5" width="15" height="15"/><text class="n" x="75" y="627">1</text></g>
<g id="wz1016-II2"><circle class="f" cx="106" cy="612" r="7.5"/><text class="n" x="106" y="627">2</text></g>
<g id="wz1016-II3"><rect class="m" x="125.5" y="604.5" width="15" height="15"/><text class="n" x="133" y="627">3</text></g>
<g id="wz1016-II4"><circle class="f" cx="162" cy="612" r="7.5"/><text class="n" x="160" y="627">4</text></g>
<g id="wz1016-III1"><circle class="f" cx="75" cy="667" r="7.5"/><text class="n" x="76" y="683">1</text></g>
<g id="wz1016-III2"><circle class="f a" cx="105" cy="667" r="7.5"/><text class="n" x="105" y="683">2</text></g>
<g id="wz1016-III3"><rect class="m" x="139.5" y="659.5" width="15" height="15"/><text class="n" x="147" y="683">3</text></g>
<text class="c" x="128" y="705">WZ1016 with 15931A&gt;C mutation</text>
</g>

<!-- WZ1017 -->
<g id="wz1017">
<text class="g" x="255" y="568">I</text><text class="g" x="257" y="620">II</text><text class="g" x="257" y="675">III</text>
<g id="wz1017-I1"><rect class="m" x="320.5" y="557.5" width="15" height="15"/><text class="n" x="328" y="584">1</text></g>
<g id="wz1017-I2"><circle class="f" cx="358" cy="565" r="7.5"/><text class="n" x="360" y="584">2</text></g>
<g id="wz1017-II1"><rect class="m" x="262.5" y="609.5" width="15" height="15"/><text class="n" x="270" y="633">1</text></g>
<g id="wz1017-II2"><circle class="f" cx="293" cy="617" r="7.5"/><text class="n" x="293" y="633">2</text></g>
<g id="wz1017-II3"><rect class="m" x="320.5" y="609.5" width="15" height="15"/><text class="n" x="328" y="633">3</text></g>
<g id="wz1017-II4"><circle class="f" cx="358" cy="617" r="7.5"/><text class="n" x="358" y="633">4</text></g>
<g id="wz1017-II5"><rect class="m" x="386.5" y="609.5" width="15" height="15"/><text class="n" x="394" y="633">5</text></g>
<g id="wz1017-II6"><circle class="f" cx="423" cy="617" r="7.5"/><text class="n" x="423" y="633">6</text></g>
<g id="wz1017-III1"><circle class="f" cx="272" cy="672" r="7.5"/><text class="n" x="272" y="689">1</text></g>
<g id="wz1017-III2"><rect class="m" x="286.5" y="664.5" width="15" height="15"/><text class="n" x="294" y="689">2</text></g>
<g id="wz1017-III3"><rect class="m a" x="335.5" y="664.5" width="15" height="15"/><text class="n" x="343" y="689">3</text></g>
<g id="wz1017-III4"><rect class="m" x="385.5" y="664.5" width="15" height="15"/><text class="n" x="393" y="689">4</text></g>
<g id="wz1017-III5"><circle class="f" cx="423" cy="672" r="7.5"/><text class="n" x="423" y="689">5</text></g>
<text class="c" x="340" y="707">WZ1017 with 15940DelT mutation</text>
</g>

<!-- WZ1018 -->
<g id="wz1018">
<text class="g gs" x="462" y="566">I</text><text class="g gs" x="462" y="604">II</text><text class="g gs" x="462" y="641">III</text><text class="g gs" x="466" y="669">IV</text>
<g id="wz1018-I1"><rect class="m" x="562" y="557" width="12" height="12"/><path class="d" d="M558,573L578,553"/><text class="n s" x="568" y="576">1</text></g>
<g id="wz1018-I2"><circle class="f" cx="585" cy="563" r="6"/><path class="d" d="M576,572L594,553"/><text class="n s" x="586" y="576">2</text></g>
<g id="wz1018-II1"><rect class="m" x="503" y="596" width="12" height="12"/><text class="n s" x="509" y="615">1</text></g>
<g id="wz1018-II2"><circle class="f" cx="524" cy="602" r="6"/><text class="n s" x="525" y="615">2</text></g>
<g id="wz1018-II3"><rect class="m" x="546" y="596" width="12" height="12"/><text class="n s" x="551" y="615">3</text></g>
<g id="wz1018-II4"><circle class="f" cx="570" cy="602" r="6"/><text class="n s" x="567" y="615">4</text></g>
<g id="wz1018-II5"><rect class="m" x="618" y="596" width="12" height="12"/><text class="n s" x="624" y="615">5</text></g>
<g id="wz1018-II6"><circle class="f" cx="641" cy="602" r="6"/><text class="n s" x="642" y="615">6</text></g>
<g id="wz1018-III1"><rect class="m" x="477" y="633" width="12" height="12"/></g>
<g id="wz1018-III2"><circle class="f" cx="503" cy="639" r="6"/></g>
<g id="wz1018-III3"><rect class="m" x="517" y="633" width="12" height="12"/></g>
<g id="wz1018-III4"><circle class="f" cx="543" cy="639" r="6"/></g>
<g id="wz1018-III5"><rect class="m" x="555" y="633" width="12" height="12"/></g>
<g id="wz1018-III6"><circle class="f" cx="582" cy="639" r="6"/></g>
<g id="wz1018-III7"><rect class="m" x="600" y="633" width="12" height="12"/></g>
<g id="wz1018-III8"><circle class="f" cx="623" cy="639" r="6"/></g>
<g id="wz1018-III9"><rect class="m" x="638" y="633" width="12" height="12"/></g>
<g id="wz1018-III10"><circle class="f" cx="664" cy="639" r="6"/></g>
<g id="wz1018-IV1"><circle class="f" cx="473" cy="667" r="6"/><text class="n s" x="473" y="680">1</text></g>
<g id="wz1018-IV2"><rect class="m a" x="487" y="661" width="12" height="12"/><text class="n s" x="493" y="680">2</text></g>
<g id="wz1018-IV3"><rect class="m" x="506" y="661" width="12" height="12"/><text class="n s" x="512" y="680">3</text></g>
<g id="wz1018-IV4"><rect class="m" x="527" y="661" width="12" height="12"/><text class="n s" x="533" y="680">4</text></g>
<g id="wz1018-IV5"><circle class="f" cx="562" cy="667" r="6"/><text class="n s" x="562" y="680">5</text></g>
<g id="wz1018-IV6"><circle class="f" cx="583" cy="667" r="6"/><text class="n s" x="583" y="680">6</text></g>
<g id="wz1018-IV7"><circle class="f" cx="614" cy="667" r="6"/><text class="n s" x="614" y="680">7</text></g>
<g id="wz1018-IV8"><rect class="m" x="648" y="661" width="12" height="12"/><text class="n s" x="654" y="680">8</text></g>
<text class="c" x="570" y="712">WZ1018 with 15943T&gt;C mutation</text>
</g>

<!-- WZ1019 -->
<g id="wz1019">
<text class="g" x="698" y="565">I</text><text class="g" x="698" y="621">II</text><text class="g" x="700" y="663">III</text>
<g id="wz1019-I1"><rect class="m" x="839.5" y="553.5" width="17" height="17"/><text class="n" x="846" y="582">1</text></g>
<g id="wz1019-I2"><circle class="f" cx="876" cy="562" r="8.5"/><text class="n" x="874" y="582">2</text></g>
<g id="wz1019-II1"><rect class="m" x="719.5" y="609.5" width="17" height="17"/><text class="n" x="728" y="637">1</text></g>
<g id="wz1019-II2"><circle class="f" cx="757" cy="618" r="8.5"/><text class="n" x="757" y="637">2</text></g>
<g id="wz1019-II3"><rect class="m" x="796.5" y="609.5" width="17" height="17"/><text class="n" x="804" y="637">3</text></g>
<g id="wz1019-II4"><circle class="f" cx="833" cy="618" r="8.5"/><text class="n" x="833" y="637">4</text></g>
<g id="wz1019-II5"><rect class="m" x="857.5" y="609.5" width="17" height="17"/><text class="n" x="862" y="637">5</text></g>
<g id="wz1019-II6"><circle class="f a" cx="897" cy="618" r="8.5"/><text class="n" x="897" y="637">6</text></g>
<g id="wz1019-II7"><circle class="f" cx="925" cy="618" r="8.5"/><text class="n" x="925" y="637">7</text></g>
<g id="wz1019-II8"><rect class="m" x="946.5" y="609.5" width="17" height="17"/><text class="n" x="955" y="637">8</text></g>
<g id="wz1019-III1"><circle class="f" cx="713" cy="660" r="8.5"/><text class="n" x="713" y="692">1</text></g>
<g id="wz1019-III2"><circle class="f" cx="743" cy="660" r="8.5"/><text class="n" x="743" y="692">2</text></g>
<g id="wz1019-III3"><rect class="m" x="766.5" y="651.5" width="17" height="17"/><text class="n" x="775" y="692">3</text></g>
<g id="wz1019-III4"><circle class="f" cx="803" cy="660" r="8.5"/><text class="n" x="803" y="692">4</text></g>
<g id="wz1019-III5"><rect class="m" x="826.5" y="651.5" width="17" height="17"/><text class="n" x="835" y="692">5</text></g>
<g id="wz1019-III6"><circle class="f" cx="865" cy="660" r="8.5"/><text class="n" x="865" y="692">6</text></g>
<g id="wz1019-III7"><rect class="m" x="887.5" y="666.5" width="17" height="17"/><text class="n" x="896" y="694">7</text></g>
<text class="c" x="839" y="712">WZ1019 with 15943T&gt;C mutation</text>
</g>

<!-- WZ1020 -->
<g id="wz1020">
<text class="g gs" x="993" y="560">I</text><text class="g gs" x="993" y="600">II</text><text class="g gs" x="993" y="640">III</text><text class="g gs" x="993" y="684">IV</text>
<g id="wz1020-I1"><rect class="m" x="1141" y="551" width="12" height="12"/><text class="n s" x="1147" y="570">1</text></g>
<g id="wz1020-I2"><circle class="f" cx="1170" cy="557" r="6"/><text class="n s" x="1170" y="570">2</text></g>
<g id="wz1020-II1"><rect class="m" x="1003" y="592" width="12" height="12"/><text class="n s" x="1009" y="612">1</text></g>
<g id="wz1020-II2"><circle class="f" cx="1032" cy="598" r="6"/><text class="n s" x="1032" y="612">2</text></g>
<g id="wz1020-II3"><rect class="m" x="1080" y="592" width="12" height="12"/><text class="n s" x="1086" y="612">3</text></g>
<g id="wz1020-II4"><circle class="f" cx="1108" cy="598" r="6"/><text class="n s" x="1109" y="612">4</text></g>
<g id="wz1020-II5"><rect class="m" x="1125" y="592" width="12" height="12"/><text class="n s" x="1131" y="612">5</text></g>
<g id="wz1020-II6"><circle class="f" cx="1153" cy="598" r="6"/><text class="n s" x="1153" y="612">6</text></g>
<g id="wz1020-II7"><rect class="m" x="1170" y="592" width="12" height="12"/><text class="n s" x="1176" y="612">7</text></g>
<g id="wz1020-II8"><circle class="f" cx="1197" cy="598" r="6"/><text class="n s" x="1198" y="612">8</text></g>
<g id="wz1020-II9"><rect class="m" x="1213" y="592" width="12" height="12"/><text class="n s" x="1219" y="612">9</text></g>
<g id="wz1020-II10"><circle class="f" cx="1242" cy="598" r="6"/><text class="n s" x="1242" y="612">10</text></g>
<g id="wz1020-II11"><rect class="m a" x="1257" y="592" width="12" height="12"/><text class="n s" x="1263" y="612">11</text></g>
<g id="wz1020-II12"><rect class="m" x="1280" y="592" width="12" height="12"/><text class="n s" x="1287" y="612">12</text></g>
<g id="wz1020-III1"><rect class="m a" x="1003" y="632" width="12" height="12"/><text class="n s" x="1009" y="652">1</text></g>
<g id="wz1020-III2"><circle class="f a" cx="1032" cy="638" r="6"/><text class="n s" x="1032" y="652">2</text></g>
<g id="wz1020-III3"><rect class="m" x="1048" y="632" width="12" height="12"/><text class="n s" x="1054" y="652">3</text></g>
<g id="wz1020-III4"><circle class="f" cx="1076" cy="638" r="6"/><text class="n s" x="1076" y="652">4</text></g>
<g id="wz1020-III5"><circle class="f" cx="1098" cy="638" r="6"/><text class="n s" x="1098" y="652">5</text></g>
<g id="wz1020-III6"><rect class="m" x="1115" y="632" width="12" height="12"/><text class="n s" x="1121" y="652">6</text></g>
<g id="wz1020-III7"><rect class="m" x="1136" y="632" width="12" height="12"/><text class="n s" x="1142" y="652">7</text></g>
<g id="wz1020-III8"><rect class="m" x="1170" y="632" width="12" height="12"/><text class="n s" x="1176" y="652">8</text></g>
<g id="wz1020-III9"><circle class="f" cx="1197" cy="638" r="6"/><text class="n s" x="1197" y="652">9</text></g>
<g id="wz1020-III10"><rect class="m" x="1224" y="632" width="12" height="12"/><text class="n s" x="1230" y="652">10</text></g>
<g id="wz1020-IV1"><rect class="m" x="1059" y="676" width="12" height="12"/><text class="n s" x="1065" y="696">1</text></g>
<text class="c" x="1161" y="710">WZ1020 with 15949G&gt;A mutation</text>
</g>
</svg>
